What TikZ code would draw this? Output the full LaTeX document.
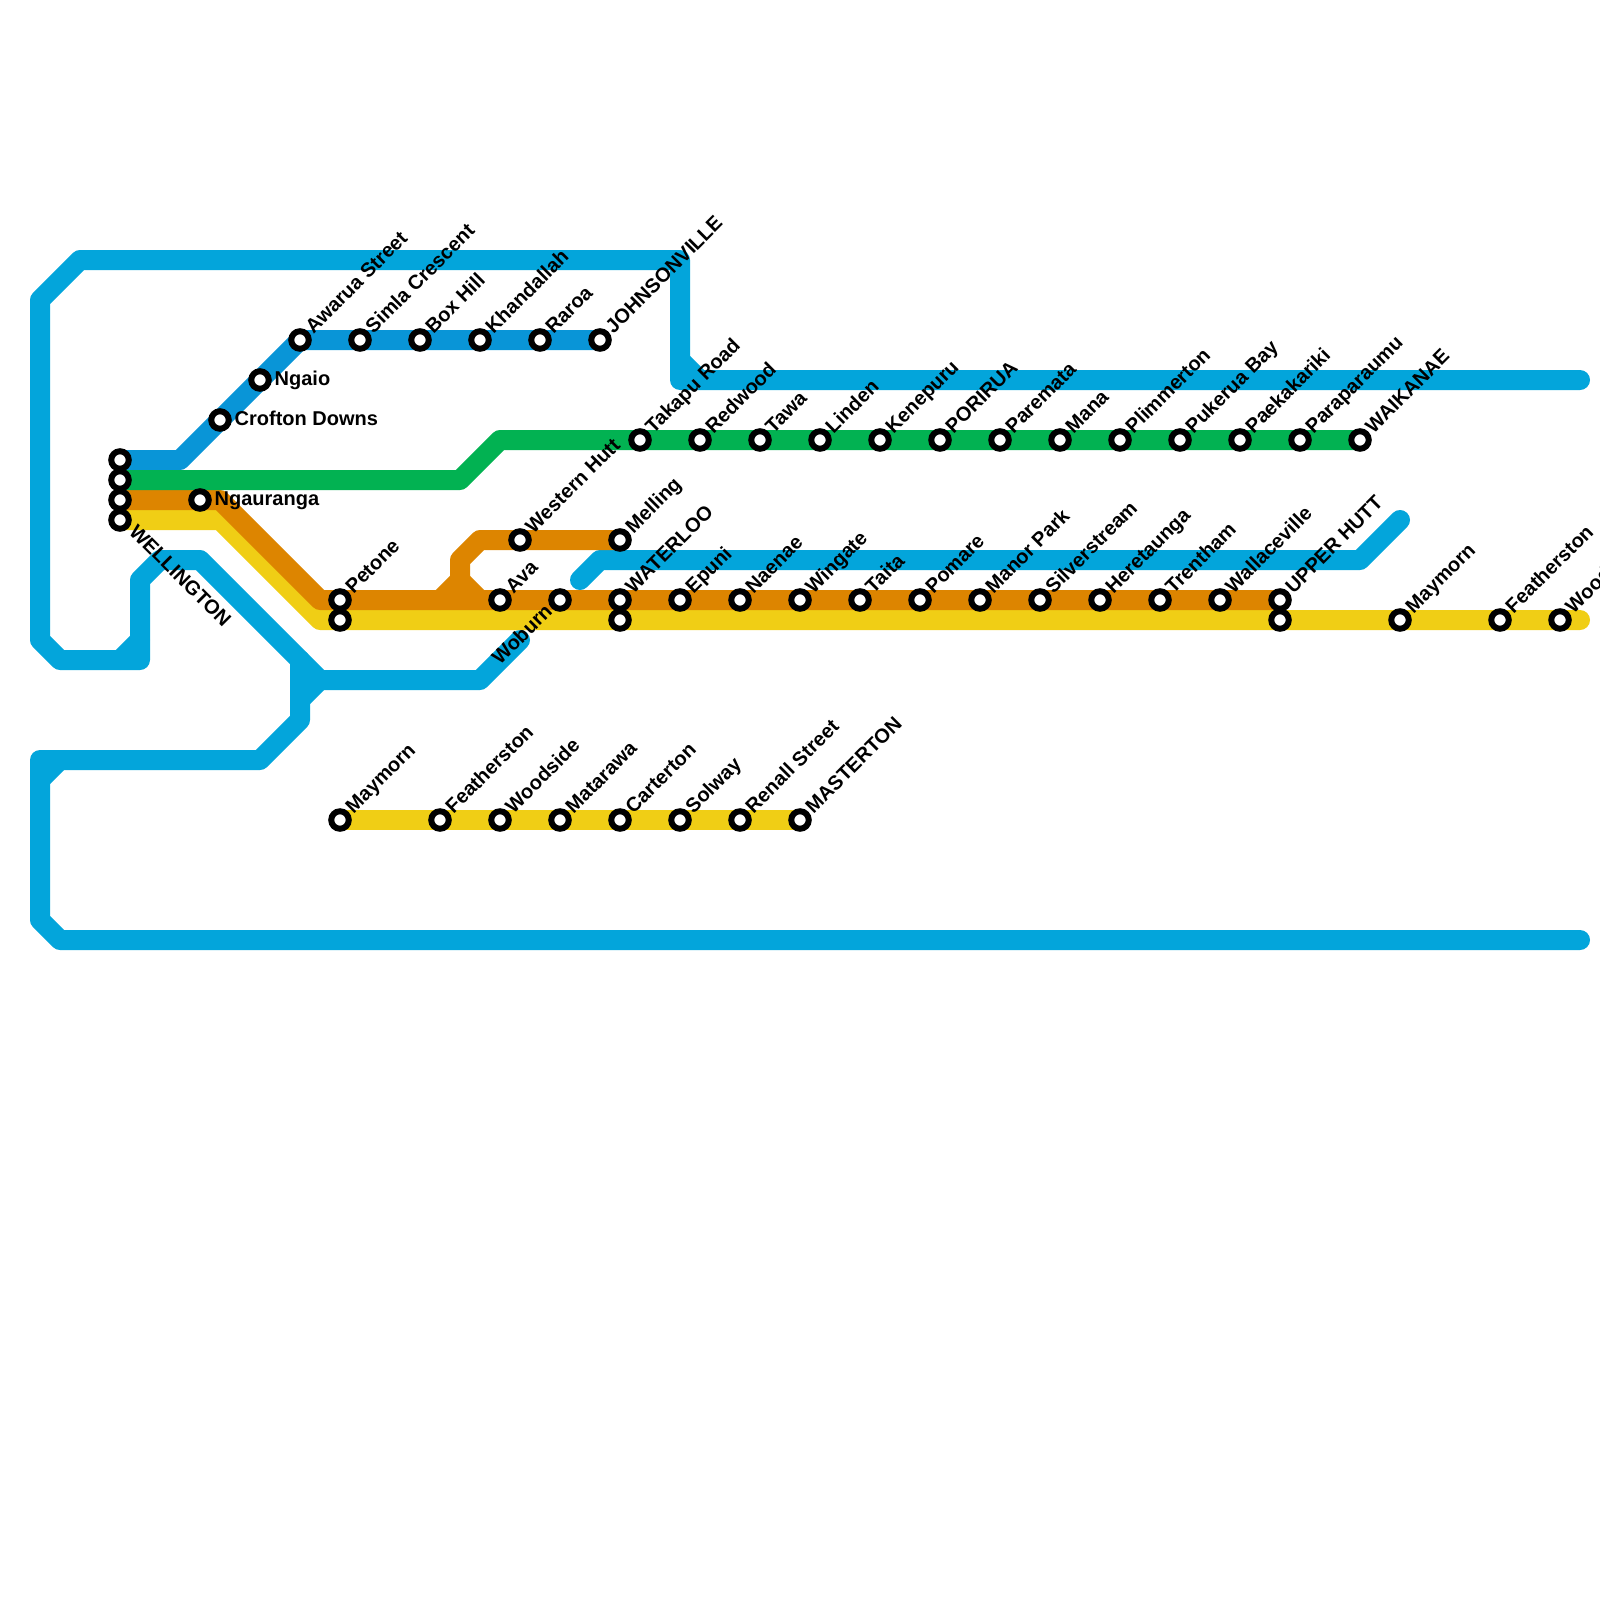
\documentclass[tikz,border=0pt]{standalone}
\usepackage{fontspec}
\setmainfont{Liberation Sans}
\usetikzlibrary{backgrounds}
\tikzset{
  x=1pt,y=-1pt,
  stationdot/.style={circle,draw=black,fill=white,line width=6pt,minimum size=17.5pt,inner sep=0pt,outer sep=0pt},
  labelup/.style={anchor=base west,rotate=45,inner sep=0pt,font=\bfseries\fontsize{20}{24}\selectfont,text=black},
  labeldown/.style={anchor=base west,rotate=-45,inner sep=0pt,font=\bfseries\fontsize{20}{24}\selectfont,text=black},
  labelleft/.style={anchor=base east,rotate=45,inner sep=0pt,font=\bfseries\fontsize{20}{24}\selectfont,text=black},
  labelflat/.style={anchor=base west,inner sep=0pt,font=\bfseries\fontsize{20}{24}\selectfont,text=black},
  railline/.style={line width=20pt,line cap=round,line join=round},
  railblue/.style={railline,draw=lineblue},
  raildark/.style={railline,draw=linedark},
  railgreen/.style={railline,draw=linegreen},
  railorange/.style={railline,draw=lineorange},
  railyellow/.style={railline,draw=lineyellow},
}
\definecolor{lineblue}{HTML}{03A5DB}
\definecolor{linedark}{HTML}{0995D7}
\definecolor{linegreen}{HTML}{02B252}
\definecolor{lineorange}{HTML}{DD8500}
\definecolor{lineyellow}{HTML}{F0CE15}
\newcommand{\stn}[4]{\node[stationdot] (#1) at (#2,#3) {};\node[labelup] (#1t) at (#2+13.5,#3-5.5) {#4};}
\newcommand{\stnflat}[4]{\node[stationdot] (#1) at (#2,#3) {};\node[labelflat] (#1t) at (#2+14.5,#3+5) {#4};}
\newcommand{\stnbare}[3]{\node[stationdot] (#1) at (#2,#3) {};}
\begin{document}
\begin{tikzpicture}
\clip (0,0) rectangle (1600,1600);
\useasboundingbox (0,0) rectangle (1600,1600);
% stations
\stnbare{wela}{120}{460}
\stnbare{welb}{120}{480}
\stnbare{welc}{120}{500}
\stnbare{weld}{120}{520}
\node[labeldown] (weldt) at (128,533) {WELLINGTON};
\stnflat{nga}{200}{500}{Ngauranga}
\stnflat{cro}{220}{420}{Crofton Downs}
\stnflat{ngi}{260}{380}{Ngaio}
\stn{awa}{300}{340}{Awarua Street}
\stn{sim}{360}{340}{Simla Crescent}
\stn{box}{420}{340}{Box Hill}
\stn{kha}{480}{340}{Khandallah}
\stn{rar}{540}{340}{Raroa}
\stn{joh}{600}{340}{JOHNSONVILLE}
\stn{tak}{640}{440}{Takapu Road}
\stn{red}{700}{440}{Redwood}
\stn{taw}{760}{440}{Tawa}
\stn{lin}{820}{440}{Linden}
\stn{ken}{880}{440}{Kenepuru}
\stn{por}{940}{440}{PORIRUA}
\stn{par}{1000}{440}{Paremata}
\stn{man}{1060}{440}{Mana}
\stn{pli}{1120}{440}{Plimmerton}
\stn{puk}{1180}{440}{Pukerua Bay}
\stn{pae}{1240}{440}{Paekakariki}
\stn{ppu}{1300}{440}{Paraparaumu}
\stn{wai}{1360}{440}{WAIKANAE}
\stn{wes}{520}{540}{Western Hutt}
\stn{mel}{620}{540}{Melling}
\stn{pet}{340}{600}{Petone}
\stnbare{petb}{340}{620}
\stn{ava}{500}{600}{Ava}
\stnbare{wob}{560}{600}
\node[labelleft] (wobt) at (553.5,612.5) {Woburn};
\stn{wat}{620}{600}{WATERLOO}
\stnbare{watb}{620}{620}
\stn{epu}{680}{600}{Epuni}
\stn{nae}{740}{600}{Naenae}
\stn{win}{800}{600}{Wingate}
\stn{tai}{860}{600}{Taita}
\stn{pom}{920}{600}{Pomare}
\stn{mpk}{980}{600}{Manor Park}
\stn{sil}{1040}{600}{Silverstream}
\stn{her}{1100}{600}{Heretaunga}
\stn{tre}{1160}{600}{Trentham}
\stn{wal}{1220}{600}{Wallaceville}
\stn{uph}{1280}{600}{UPPER HUTT}
\stnbare{uphb}{1280}{620}
\stn{may}{1400}{620}{Maymorn}
\stn{fea}{1500}{620}{Featherston}
\stn{woo}{1560}{620}{Woodside}
\stn{mayb}{340}{820}{Maymorn}
\stn{feab}{440}{820}{Featherston}
\stn{woob}{500}{820}{Woodside}
\stn{mat}{560}{820}{Matarawa}
\stn{car}{620}{820}{Carterton}
\stn{sol}{680}{820}{Solway}
\stn{ren}{740}{820}{Renall Street}
\stn{mas}{800}{820}{MASTERTON}
% bends and free ends
\coordinate (a1) at (1580,380);
\coordinate (a2) at (680,380);
\coordinate (a3) at (680,260);
\coordinate (a4) at (80,260);
\coordinate (a5) at (40,300);
\coordinate (a6) at (40,640);
\coordinate (a7) at (60,660);
\coordinate (a8) at (140,660);
\coordinate (a9) at (140,580);
\coordinate (a10) at (160,560);
\coordinate (a11) at (200,560);
\coordinate (a12) at (320,680);
\coordinate (a13) at (480,680);
\coordinate (a14) at (520,640);
\coordinate (a15) at (680,360);
\coordinate (a16) at (700,380);
\coordinate (a17) at (120,660);
\coordinate (a18) at (140,640);
\coordinate (b1) at (300,660);
\coordinate (b2) at (300,720);
\coordinate (b3) at (260,760);
\coordinate (b4) at (40,760);
\coordinate (b5) at (40,920);
\coordinate (b6) at (60,940);
\coordinate (b7) at (1580,940);
\coordinate (b8) at (300,700);
\coordinate (b9) at (40,780);
\coordinate (b10) at (60,760);
\coordinate (c1) at (580,580);
\coordinate (c2) at (600,560);
\coordinate (c3) at (1360,560);
\coordinate (c4) at (1400,520);
\coordinate (d1) at (180,460);
\coordinate (e1) at (460,480);
\coordinate (e2) at (500,440);
\coordinate (f1) at (220,500);
\coordinate (f2) at (320,600);
\coordinate (f3) at (440,600);
\coordinate (f4) at (460,580);
\coordinate (f5) at (460,560);
\coordinate (f6) at (480,540);
\coordinate (f7) at (480,600);
\coordinate (g1) at (220,520);
\coordinate (g2) at (320,620);
\coordinate (h1) at (1580,620);
\begin{scope}[on background layer]
\draw[railblue] (a1) -- (a2) -- (a3) -- (a4) -- (a5) -- (a6) -- (a7) -- (a8) -- (a9) -- (a10) -- (a11) -- (a12) -- (a13) -- (a14);
\draw[railblue] (a15) -- (a16);
\draw[railblue] (a17) -- (a18);
\draw[railblue] (b1) -- (b2) -- (b3) -- (b4) -- (b5) -- (b6) -- (b7);
\draw[railblue] (b8) -- (a12);
\draw[railblue] (b9) -- (b10);
\draw[railblue] (c1) -- (c2) -- (c3) -- (c4);
\draw[raildark] (wela.center) -- (d1) -- (cro.center) -- (ngi.center) -- (awa.center) -- (sim.center) -- (box.center) -- (kha.center) -- (rar.center) -- (joh.center);
\draw[railyellow] (weld.center) -- (g1) -- (g2) -- (petb.center) -- (watb.center) -- (uphb.center) -- (may.center) -- (fea.center) -- (woo.center) -- (h1);
\draw[railyellow] (mayb.center) -- (feab.center) -- (woob.center) -- (mat.center) -- (car.center) -- (sol.center) -- (ren.center) -- (mas.center);
\draw[railorange] (welc.center) -- (nga.center) -- (f1) -- (f2) -- (pet.center) -- (f3) -- (f7) -- (ava.center) -- (wob.center) -- (wat.center) -- (epu.center) -- (nae.center) -- (win.center) -- (tai.center) -- (pom.center) -- (mpk.center) -- (sil.center) -- (her.center) -- (tre.center) -- (wal.center) -- (uph.center);
\draw[railorange] (f3) -- (f4) -- (f5) -- (f6) -- (wes.center) -- (mel.center);
\draw[railorange] (f4) -- (f7);
\draw[railgreen] (welb.center) -- (e1) -- (e2) -- (tak.center) -- (red.center) -- (taw.center) -- (lin.center) -- (ken.center) -- (por.center) -- (par.center) -- (man.center) -- (pli.center) -- (puk.center) -- (pae.center) -- (ppu.center) -- (wai.center);
\end{scope}
\end{tikzpicture}
\end{document}
